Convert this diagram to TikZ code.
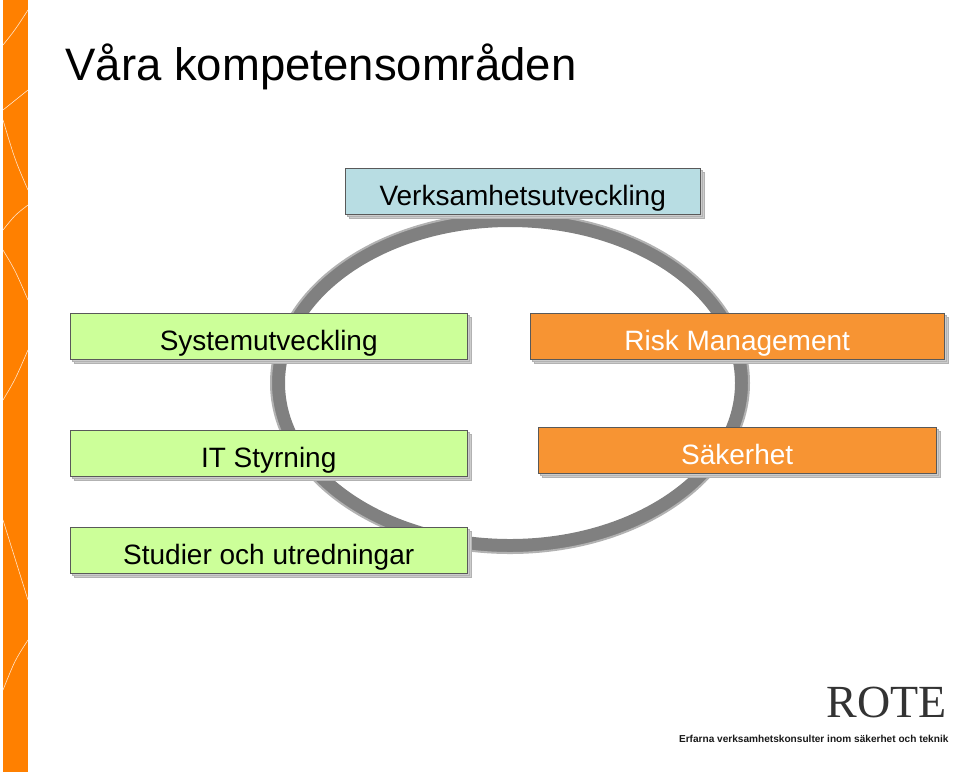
\documentclass[tikz,border=0pt]{standalone}
\usepackage{fontspec}
\setmainfont{Liberation Sans}
\newfontfamily\logofont{Liberation Serif}
\tikzset{
  box/.style={draw=gray!70!black, minimum height=46pt, anchor=north west,
    font=\fontsize{28}{30}\selectfont, inner sep=0pt, text height=28pt, text depth=0pt,
    double copy shadow={shadow xshift=2pt, shadow yshift=-2pt, draw=gray!60, fill=gray!40}},
}
\usetikzlibrary{shadows}
\definecolor{bluebox}{HTML}{B8DDE3}
\definecolor{greenbox}{HTML}{CCFF99}
\definecolor{orangebox}{HTML}{F79433}
\definecolor{stripe}{HTML}{FF8000}
\begin{document}
\begin{tikzpicture}[x=1pt,y=-1pt]
\useasboundingbox (0,0) rectangle (960,772);
% side stripe
\fill[stripe] (3,0) rectangle (28,772);
\draw[white!80!stripe, line width=0.6pt] (3,45) .. controls (15,30) .. (28,10);
\draw[white!80!stripe, line width=0.6pt] (3,110) .. controls (15,100) .. (28,90);
\draw[white!80!stripe, line width=0.6pt] (3,120) .. controls (15,160) .. (28,190);
\draw[white!80!stripe, line width=0.6pt] (3,230) .. controls (15,215) .. (28,205);
\draw[white!80!stripe, line width=0.6pt] (3,250) .. controls (15,270) .. (28,300);
\draw[white!80!stripe, line width=0.6pt] (3,400) .. controls (15,380) .. (28,350);
\draw[white!80!stripe, line width=0.6pt] (3,520) .. controls (15,560) .. (28,600);
\draw[white!80!stripe, line width=0.6pt] (3,690) .. controls (15,660) .. (28,640);
% title
\node[anchor=west, font=\fontsize{45.5}{48}\selectfont] (title) at (62,67) {Våra kompetensområden};
% ring
\draw[gray, line width=14pt] (510,383) ellipse (232pt and 163pt);
\draw[gray!60, line width=2pt] (510,383) ellipse (239pt and 170pt);
% boxes
\node[box, fill=bluebox, minimum width=355pt] (verk) at (345,168) {Verksamhetsutveckling};
\node[box, fill=greenbox, minimum width=397pt] (sys) at (70,313) {Systemutveckling};
\node[box, fill=orangebox, text=white, minimum width=414pt] (risk) at (530,313) {Risk Management};
\node[box, fill=greenbox, minimum width=397pt] (its) at (70,430) {IT Styrning};
\node[box, fill=orangebox, text=white, minimum width=398pt] (sak) at (538,427) {Säkerhet};
\node[box, fill=greenbox, minimum width=397pt] (stud) at (70,527) {Studier och utredningar};
% logo
\node[font=\logofont\fontsize{46}{46}\selectfont, text=gray!40!black] (logo) at (887,702) {ROTE};
\node[anchor=east, font=\fontsize{10.1}{12}\selectfont\bfseries, text=gray!20!black] (slogan) at (952,739) {Erfarna verksamhetskonsulter inom säkerhet och teknik};
\end{tikzpicture}
\end{document}
